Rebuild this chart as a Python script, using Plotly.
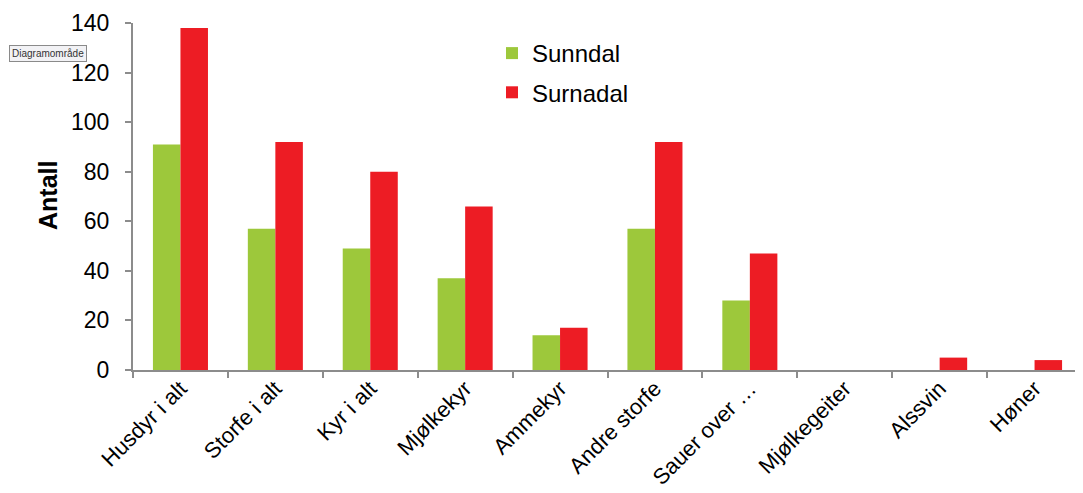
import plotly.graph_objects as go

categories = ['Husdyr i alt', 'Storfe i alt', 'Kyr i alt', 'Mjølkekyr', 'Ammekyr',
              'Andre storfe', 'Sauer over …', 'Mjølkegeiter', 'Alssvin', 'Høner']
sunndal = [91, 57, 49, 37, 14, 57, 28, 0, 0, 0]
surnadal = [138, 92, 80, 66, 17, 92, 47, 0, 5, 4]
y_ticks = [0, 20, 40, 60, 80, 100, 120, 140]

font = 'Liberation Sans, Arial, sans-serif'

# page body has an 8px margin, so the figure is a bit smaller and shifted
# plot area on screen: x 133..1082, y 23..370
def px_x(x):
    return (x - 133) / 949

def px_y(y):
    return (370 - y) / 347

fig = go.Figure()
fig.add_trace(go.Bar(x=categories, y=sunndal, name='Sunndal',
                     marker=dict(color='#9DC83B', line_width=0), legendgroup='a'))
fig.add_trace(go.Bar(x=categories, y=surnadal, name='Surnadal',
                     marker=dict(color='#ED1C24', line_width=0), legendgroup='b'))

fig.update_layout(
    width=1075, height=485,
    margin=dict(l=125, r=1, t=15, b=123, autoexpand=False),
    paper_bgcolor='white', plot_bgcolor='white',
    barmode='group', bargap=0.42, bargroupgap=0,
    font=dict(family=font, color='black'),
    showlegend=True,
    legend=dict(x=px_x(492), y=px_y(31), xanchor='left', yanchor='top',
                font=dict(size=24), tracegroupgap=5, bgcolor='rgba(0,0,0,0)'),
    annotations=[
        dict(text='<b>Antall</b>', x=px_x(48), y=px_y(196), xref='paper', yref='paper',
             xanchor='center', yanchor='middle',
             showarrow=False, textangle=-90, font=dict(size=25)),
        dict(text='Diagramområde', xref='paper', yref='paper', x=px_x(9), y=px_y(53.5),
             xanchor='left', yanchor='middle', showarrow=False,
             font=dict(size=10, color='#333'),
             bgcolor='#F2F2F5', bordercolor='#8A8A8A', borderwidth=1, borderpad=2),
    ],
)

fig.update_xaxes(
    automargin=False,
    showline=True, linecolor='#8C8C8C', linewidth=2,
    ticks='outside', tickson='boundaries', ticklen=6, tickcolor='#8C8C8C', tickwidth=2,
    tickangle=-45, tickfont=dict(size=22), ticklabelstandoff=-5, showgrid=False,
)
fig.update_yaxes(
    automargin=False,
    range=[0, 140], tickvals=y_ticks,
    showline=True, linecolor='#8C8C8C', linewidth=2,
    ticks='outside', ticklen=6, tickcolor='#8C8C8C', tickwidth=2,
    ticklabelstandoff=11,
    tickfont=dict(size=23), showgrid=False, zeroline=False,
)

fig.write_html("out.html")
